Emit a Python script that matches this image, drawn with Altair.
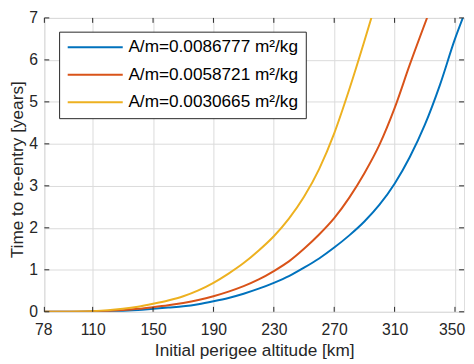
import altair as alt
import pandas as pd

# ---- data ----
x_ticks = [78, 110, 150, 190, 230, 270, 310, 350]
y_ticks = [0, 1, 2, 3, 4, 5, 6, 7]

series_names = [
    "A/m=0.0086777 m²/kg",
    "A/m=0.0058721 m²/kg",
    "A/m=0.0030665 m²/kg",
]
colors = ["#0072BD", "#D95319", "#EDB120"]

blue_alt = [78, 90, 100, 110, 120, 130, 140, 150, 160, 170, 180, 190, 200, 210, 220, 230,
            240, 250, 260, 270, 280, 290, 300, 310, 320, 330, 340, 350, 355.2]
blue_t = [0, 0.001, 0.002, 0.005, 0.012, 0.02, 0.04, 0.07, 0.10, 0.13, 0.18, 0.25, 0.33, 0.43,
          0.55, 0.69, 0.85, 1.05, 1.27, 1.53, 1.82, 2.15, 2.55, 3.05, 3.68, 4.45, 5.40, 6.5, 7.0]

orange_alt = [78, 90, 100, 110, 120, 130, 140, 150, 160, 170, 180, 190, 200, 210, 220, 230,
              240, 250, 260, 270, 280, 290, 300, 310, 320, 331.5]
orange_t = [0, 0.002, 0.004, 0.01, 0.02, 0.04, 0.07, 0.11, 0.155, 0.21, 0.28, 0.37, 0.48, 0.61,
            0.77, 0.97, 1.20, 1.50, 1.84, 2.23, 2.72, 3.30, 3.98, 4.85, 5.88, 7.0]

yellow_alt = [78, 90, 100, 110, 120, 130, 140, 150, 160, 170, 180, 190, 200, 210, 220, 230,
              240, 250, 260, 270, 280, 290, 294.6]
yellow_t = [0, 0.002, 0.005, 0.015, 0.035, 0.07, 0.12, 0.19, 0.27, 0.37, 0.51, 0.69, 0.91, 1.16,
            1.46, 1.80, 2.22, 2.74, 3.40, 4.25, 5.30, 6.45, 7.0]

rows = []
for name, xs_, ys_ in zip(series_names, [blue_alt, orange_alt, yellow_alt], [blue_t, orange_t, yellow_t]):
    for a, t in zip(xs_, ys_):
        rows.append({"alt": a, "t": t, "series": name})
df = pd.DataFrame(rows)
xt_df = pd.DataFrame({"alt": x_ticks})
yt_df = pd.DataFrame({"t": y_ticks})

W, H = 427, 299
FONT = "Liberation Sans"
AX = "#262626"
TICK = 5

xscale = alt.Scale(domain=[78, 356], nice=False, zero=False)
yscale = alt.Scale(domain=[0, 7], nice=False, zero=True)

x_axis = alt.Axis(values=x_ticks, grid=True, ticks=False, domain=False, labelPadding=10,
                  titlePadding=4, labelFontSize=16, titleFontSize=17.5, labelFont=FONT,
                  titleFont=FONT, labelColor=AX, titleColor=AX, titleFontWeight="normal",
                  gridColor="#DADADA", labelFlush=12, labelFlushOffset=10)
y_axis = alt.Axis(values=y_ticks, grid=True, ticks=False, domain=False, labelPadding=7,
                  labelFontSize=16, titleFontSize=17.5, labelFont=FONT,
                  titleFont=FONT, labelColor=AX, titleColor=AX, titleFontWeight="normal",
                  gridColor="#DADADA", labelFlush=False,
                  titleX=-27, titleY=154, titleBaseline="middle", titleAngle=270)

x_enc = alt.X("alt:Q", scale=xscale, axis=x_axis, title="Initial perigee altitude [km]")
y_enc = alt.Y("t:Q", scale=yscale, axis=y_axis, title="Time to re-entry [years]")

lines = alt.Chart(df).mark_line(strokeWidth=2, clip=True, interpolate="monotone").encode(
    x=x_enc,
    y=y_enc,
    color=alt.Color(
        "series:N",
        scale=alt.Scale(domain=series_names, range=colors),
        sort=series_names,
        legend=alt.Legend(
            title=None, orient="none", legendX=15, legendY=14, direction="vertical",
            symbolType="M-1,0H7", symbolSize=196, symbolStrokeWidth=2,
            labelFont=FONT, labelFontSize=17.5, labelColor="#000000", labelLimit=400,
            labelOffset=46, padding=7, rowPadding=9, fillColor="white",
            strokeColor=AX,
        ),
    ),
)

bottom_ticks = alt.Chart(xt_df).mark_rule(color=AX).encode(x=x_enc, y=alt.value(H), y2=alt.value(H - TICK))
top_ticks = alt.Chart(xt_df).mark_rule(color=AX).encode(x=x_enc, y=alt.value(0), y2=alt.value(TICK))
left_ticks = alt.Chart(yt_df).mark_rule(color=AX).encode(y=y_enc, x=alt.value(0), x2=alt.value(TICK))
right_ticks = alt.Chart(yt_df).mark_rule(color=AX).encode(y=y_enc, x=alt.value(W), x2=alt.value(W - TICK))

chart = alt.layer(lines, bottom_ticks, top_ticks, left_ticks, right_ticks).properties(
    width=W, height=H,
    autosize=alt.AutoSizeParams(type="none"),
    padding={"left": 37, "top": 7, "right": 2, "bottom": 48},
).configure_view(stroke=AX, strokeWidth=1.2).configure(background="white")

chart.save("out.html", embed_options={"renderer": "svg", "actions": False})
